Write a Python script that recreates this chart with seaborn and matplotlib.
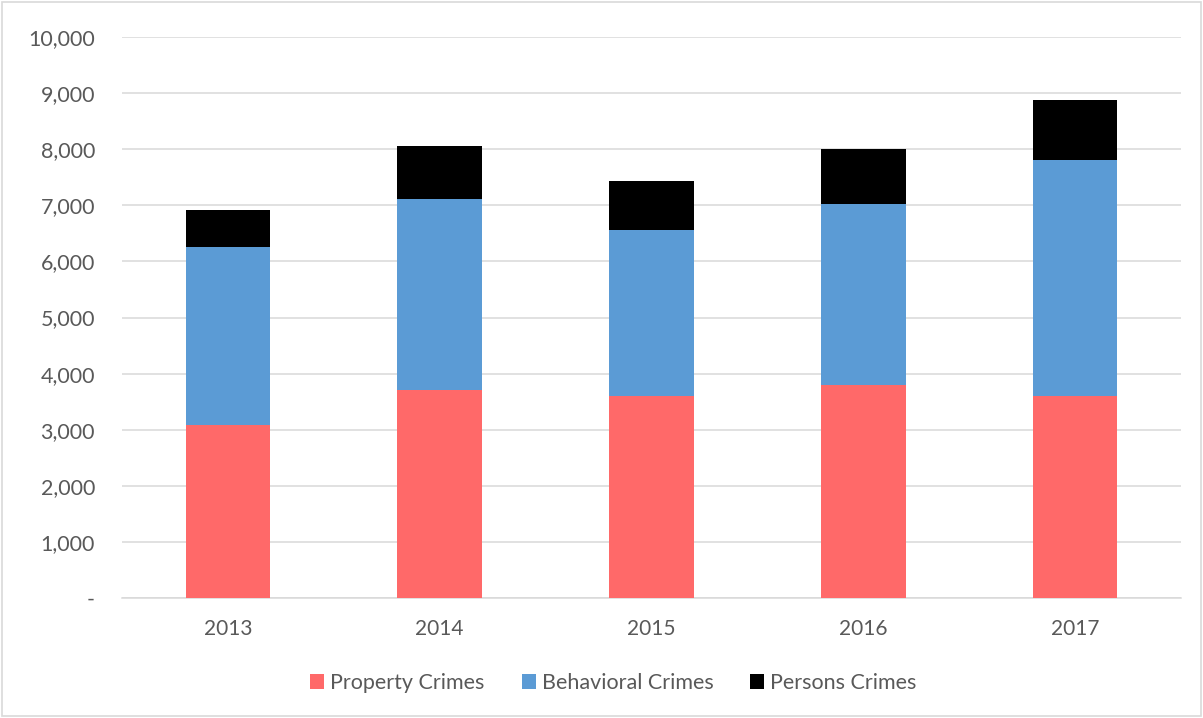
import matplotlib
matplotlib.use("Agg")
import matplotlib.pyplot as plt
from matplotlib.patches import Rectangle, Patch
from matplotlib.ticker import FuncFormatter
import seaborn as sns
import pandas as pd
import numpy as np

years = ["2013", "2014", "2015", "2016", "2017"]
property_crimes = [3090, 3710, 3605, 3795, 3605]
behavioral_crimes = [3160, 3400, 2960, 3235, 4195]
persons_crimes = [670, 940, 860, 980, 1075]

series_names = ["Property Crimes", "Behavioral Crimes", "Persons Crimes"]
colors = ["#FF6969", "#5B9BD5", "#000000"]

sns.set_theme(style="white")
plt.rcParams["font.family"] = ["Lato", "DejaVu Sans"]

prop = np.array(property_crimes)
beh = prop + np.array(behavioral_crimes)
tot = beh + np.array(persons_crimes)

df = pd.DataFrame({"year": years, "prop": prop, "beh": beh, "tot": tot})

fig = plt.figure(figsize=(12.03, 7.18), dpi=100)
ax = fig.add_axes([122 / 1203, 1 - 598 / 718, (1181 - 122) / 1203, (598 - 37) / 718])

w = 0.40
sns.barplot(data=df, x="year", y="tot", color=colors[2], saturation=1, width=w, ax=ax,
            edgecolor="none", zorder=3)
sns.barplot(data=df, x="year", y="beh", color=colors[1], saturation=1, width=w, ax=ax,
            edgecolor="none", zorder=4)
sns.barplot(data=df, x="year", y="prop", color=colors[0], saturation=1, width=w, ax=ax,
            edgecolor="none", zorder=5)

ax.set_ylim(0, 10000)
ax.set_xlim(-0.5, 4.5)
ax.set_yticks(np.arange(0, 10001, 1000))
ax.yaxis.set_major_formatter(FuncFormatter(lambda v, p: "-" if v == 0 else f"{int(v):,}"))
ax.grid(axis="y", color="#d9d9d9", linewidth=1.1, zorder=0)
ax.set_axisbelow(True)
for s in ["top", "right", "left"]:
    ax.spines[s].set_visible(False)
ax.spines["bottom"].set_color("#d9d9d9")
ax.spines["bottom"].set_linewidth(1.1)
ax.set_xlabel("")
ax.set_ylabel("")
ax.tick_params(axis="both", length=0, colors="#595959")
ax.tick_params(axis="y", pad=19.5, labelsize=15.5)
ax.tick_params(axis="x", pad=15, labelsize=15)

handles = [Patch(facecolor=c, edgecolor="none") for c in colors]
fig.legend(handles, series_names, loc="center", bbox_to_anchor=(613.5 / 1203, 1 - 683 / 718),
           ncol=3, frameon=False, fontsize=15.5, handlelength=0.65, handleheight=0.65,
           handletextpad=0.28, columnspacing=1.72, labelcolor="#595959")

fig.patches.append(Rectangle((2 / 1203, 2 / 718), 1 - 4 / 1203, 1 - 4 / 718,
                             transform=fig.transFigure, fill=False,
                             edgecolor="#d9d9d9", linewidth=1.2))

fig.savefig("out.png", dpi=100)
